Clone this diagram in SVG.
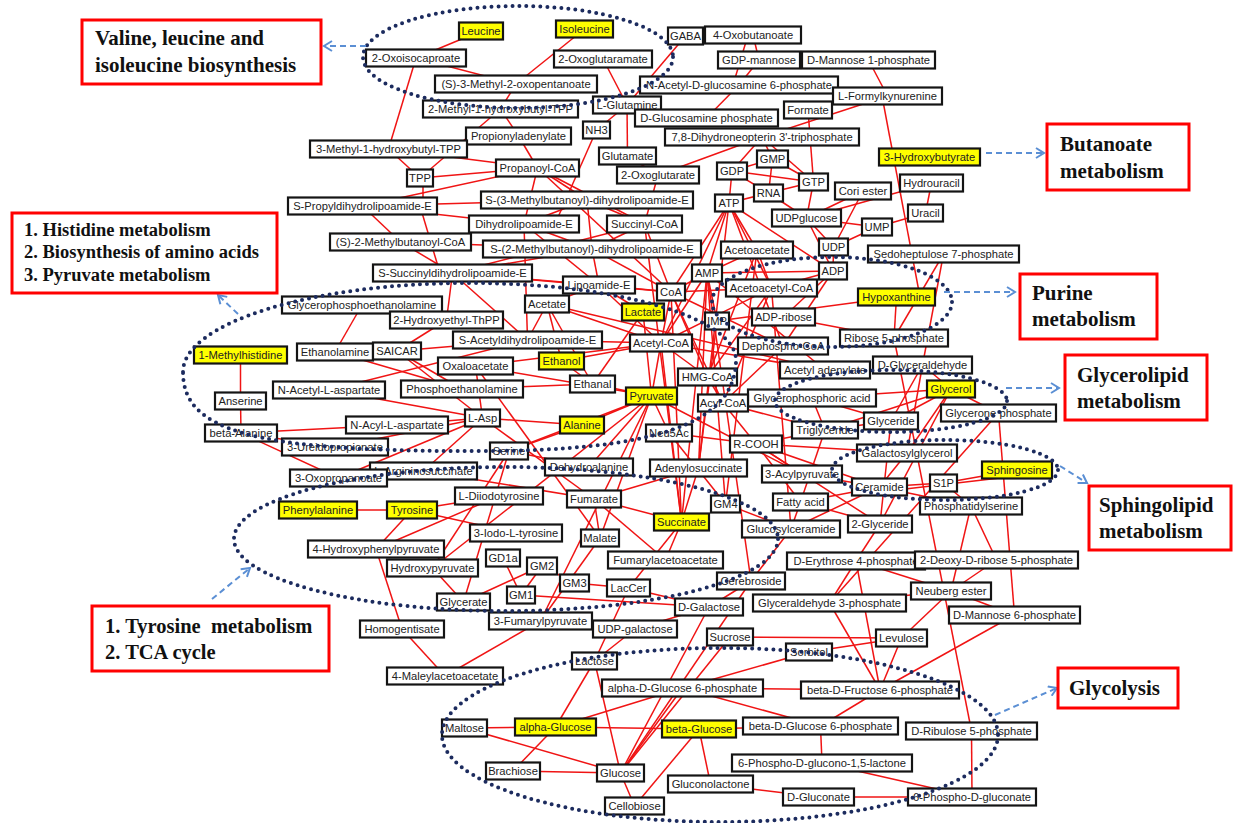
<svg xmlns="http://www.w3.org/2000/svg" width="1233" height="823" viewBox="0 0 1233 823">
<style>
.e line{stroke:#f01414;stroke-width:1.5}
.n rect{fill:#fff;stroke:#141414;stroke-width:2.2}
.n.y rect{fill:#ffff00}
.n text{font-family:"Liberation Sans",Arial,sans-serif;font-size:11.2px;text-anchor:middle;fill:#222}
.dot{fill:none;stroke:#1c2b5e;stroke-width:4;stroke-dasharray:0 7;stroke-linecap:round}
.lb rect{fill:#fff;stroke:#f00;stroke-width:3}
.lb text{font-family:"Liberation Serif","Times New Roman",serif;font-weight:bold;font-size:21px;fill:#111}
.ar{stroke:#5b8fd4;stroke-width:2;stroke-dasharray:6 4;fill:none}
</style>
<defs>
<marker id="ah" markerWidth="12" markerHeight="12" refX="10" refY="6" orient="auto" markerUnits="userSpaceOnUse"><path d="M2,1 L10,6 L2,11" fill="none" stroke="#5b8fd4" stroke-width="2"/></marker>
</defs>
<rect width="1233" height="823" fill="#fff"/>
<g id="connectors" class="e">
<line x1="481" y1="31" x2="416" y2="58"/><line x1="584.5" y1="29" x2="516" y2="84"/><line x1="416" y1="58" x2="388.5" y2="149"/><line x1="416" y1="58" x2="516" y2="84"/><line x1="516" y1="84" x2="500.5" y2="109"/><line x1="500.5" y1="109" x2="518.5" y2="136"/><line x1="603" y1="59" x2="627" y2="105"/><line x1="685.5" y1="36" x2="753" y2="35"/><line x1="685.5" y1="36" x2="627" y2="105"/><line x1="753" y1="35" x2="759" y2="60"/><line x1="759" y1="60" x2="739" y2="85"/><line x1="748" y1="35" x2="733" y2="85"/><line x1="739" y1="85" x2="706.5" y2="118"/><line x1="868.5" y1="60" x2="887.5" y2="96"/><line x1="882" y1="96" x2="920" y2="297"/><line x1="887.5" y1="96" x2="762" y2="137"/><line x1="808" y1="110" x2="813.5" y2="182"/><line x1="762" y1="137" x2="813.5" y2="182"/><line x1="762" y1="137" x2="732" y2="171"/><line x1="762" y1="137" x2="772.5" y2="159"/><line x1="762" y1="137" x2="658" y2="175"/><line x1="627" y1="105" x2="627.5" y2="156"/><line x1="627" y1="105" x2="596.5" y2="130"/><line x1="596.5" y1="130" x2="555" y2="224"/><line x1="627.5" y1="156" x2="658" y2="175"/><line x1="658" y1="175" x2="644.5" y2="224"/><line x1="388.5" y1="149" x2="420" y2="178"/><line x1="420" y1="178" x2="500.5" y2="109"/><line x1="388.5" y1="149" x2="537.5" y2="168"/><line x1="420" y1="178" x2="537.5" y2="168"/><line x1="423" y1="178" x2="423" y2="206"/><line x1="362.5" y1="206" x2="537.5" y2="168"/><line x1="362.5" y1="206" x2="524" y2="224"/><line x1="362.5" y1="206" x2="400.5" y2="242"/><line x1="420" y1="206" x2="440" y2="273"/><line x1="400.5" y1="242" x2="592" y2="249"/><line x1="400.5" y1="242" x2="452.5" y2="273"/><line x1="518.5" y1="136" x2="537.5" y2="168"/><line x1="537.5" y1="168" x2="587" y2="200"/><line x1="537.5" y1="168" x2="524" y2="224"/><line x1="587" y1="200" x2="524" y2="224"/><line x1="587" y1="200" x2="644.5" y2="224"/><line x1="587" y1="200" x2="592" y2="249"/><line x1="524" y1="224" x2="592" y2="249"/><line x1="644.5" y1="224" x2="592" y2="249"/><line x1="524" y1="224" x2="599" y2="285"/><line x1="592" y1="249" x2="599" y2="285"/><line x1="452.5" y1="273" x2="599" y2="285"/><line x1="452.5" y1="273" x2="527.5" y2="340"/><line x1="592" y1="249" x2="671" y2="292"/><line x1="644.5" y1="224" x2="671" y2="292"/><line x1="452.5" y1="273" x2="671" y2="292"/><line x1="644.5" y1="224" x2="681.5" y2="522"/><line x1="644.5" y1="224" x2="452.5" y2="273"/><line x1="537.5" y1="168" x2="671" y2="292"/><line x1="362.5" y1="206" x2="587" y2="200"/><line x1="537.5" y1="168" x2="644.5" y2="224"/><line x1="599" y1="285" x2="661" y2="343"/><line x1="524" y1="224" x2="527.5" y2="340"/><line x1="592" y1="249" x2="452.5" y2="273"/>
<line x1="732" y1="171" x2="772.5" y2="159"/><line x1="732" y1="171" x2="813.5" y2="182"/><line x1="732" y1="171" x2="768.5" y2="193"/><line x1="732" y1="171" x2="729" y2="203"/><line x1="772.5" y1="159" x2="813.5" y2="182"/><line x1="772.5" y1="159" x2="768.5" y2="193"/><line x1="768.5" y1="193" x2="813.5" y2="182"/><line x1="768.5" y1="193" x2="806.5" y2="218"/><line x1="768.5" y1="193" x2="729" y2="203"/><line x1="813.5" y1="182" x2="806.5" y2="218"/><line x1="729" y1="203" x2="707" y2="273"/><line x1="729" y1="203" x2="833" y2="271"/><line x1="729" y1="203" x2="771.5" y2="288"/><line x1="729" y1="203" x2="671" y2="292"/><line x1="729" y1="203" x2="783" y2="346"/><line x1="729" y1="203" x2="757" y2="250"/><line x1="729" y1="203" x2="661" y2="343"/><line x1="863" y1="191" x2="806.5" y2="218"/><line x1="863" y1="191" x2="833.5" y2="247"/><line x1="931.5" y1="183" x2="925.5" y2="213"/><line x1="931.5" y1="183" x2="806.5" y2="218"/><line x1="925.5" y1="213" x2="877" y2="227"/><line x1="877" y1="227" x2="833.5" y2="247"/><line x1="877" y1="227" x2="806.5" y2="218"/><line x1="806.5" y1="218" x2="833.5" y2="247"/><line x1="833.5" y1="247" x2="833" y2="271"/><line x1="806.5" y1="218" x2="833" y2="271"/><line x1="757" y1="250" x2="771.5" y2="288"/><line x1="707" y1="273" x2="833" y2="271"/><line x1="707" y1="273" x2="671" y2="292"/><line x1="671" y1="292" x2="771.5" y2="288"/><line x1="707" y1="273" x2="757" y2="250"/><line x1="707" y1="273" x2="717" y2="321"/><line x1="707" y1="273" x2="661" y2="343"/><line x1="833" y1="271" x2="783.5" y2="317"/><line x1="833" y1="271" x2="771.5" y2="288"/><line x1="833" y1="271" x2="783" y2="346"/><line x1="771.5" y1="288" x2="707.5" y2="377"/><line x1="771.5" y1="288" x2="661" y2="343"/><line x1="771.5" y1="288" x2="723" y2="403"/><line x1="771.5" y1="288" x2="791" y2="529"/><line x1="671" y1="292" x2="661" y2="343"/><line x1="671" y1="292" x2="783" y2="346"/><line x1="671" y1="292" x2="723" y2="403"/><line x1="671" y1="292" x2="707.5" y2="377"/><line x1="671" y1="292" x2="599" y2="285"/><line x1="783.5" y1="317" x2="894" y2="338"/><line x1="717" y1="321" x2="896.5" y2="297"/><line x1="717" y1="321" x2="698.5" y2="468"/><line x1="707" y1="273" x2="698.5" y2="468"/><line x1="707" y1="273" x2="725.5" y2="504"/><line x1="707" y1="273" x2="751" y2="581"/><line x1="783" y1="346" x2="723" y2="403"/><line x1="943.5" y1="254" x2="894" y2="338"/><line x1="943.5" y1="254" x2="922.5" y2="365"/><line x1="896.5" y1="297" x2="894" y2="338"/><line x1="661" y1="343" x2="825" y2="370"/><line x1="661" y1="343" x2="707.5" y2="377"/><line x1="661" y1="343" x2="651.5" y2="396"/><line x1="661" y1="343" x2="547" y2="304"/><line x1="661" y1="343" x2="527.5" y2="340"/><line x1="707.5" y1="377" x2="723" y2="403"/><line x1="707.5" y1="377" x2="757" y2="250"/><line x1="723" y1="403" x2="756" y2="444"/><line x1="723" y1="403" x2="812" y2="398"/><line x1="723" y1="403" x2="825" y2="430"/><line x1="643" y1="312" x2="651.5" y2="396"/><line x1="643" y1="312" x2="599" y2="285"/><line x1="547" y1="304" x2="599" y2="285"/><line x1="547" y1="304" x2="527.5" y2="340"/><line x1="547" y1="304" x2="592.5" y2="384"/><line x1="547" y1="304" x2="825" y2="370"/><line x1="561.5" y1="361" x2="592.5" y2="384"/><line x1="592.5" y1="384" x2="651.5" y2="396"/><line x1="651.5" y1="396" x2="582" y2="425"/><line x1="651.5" y1="396" x2="475.5" y2="366"/><line x1="651.5" y1="396" x2="509" y2="451"/><line x1="651.5" y1="396" x2="589" y2="467"/><line x1="651.5" y1="396" x2="600" y2="538"/><line x1="651.5" y1="396" x2="669" y2="433"/><line x1="651.5" y1="396" x2="802" y2="474"/><line x1="651.5" y1="396" x2="432.5" y2="568"/><line x1="651.5" y1="396" x2="540.5" y2="621"/><line x1="475.5" y1="366" x2="482.5" y2="418"/><line x1="475.5" y1="366" x2="600" y2="538"/><line x1="446.5" y1="320" x2="452.5" y2="273"/><line x1="446.5" y1="320" x2="397" y2="351"/><line x1="362" y1="305" x2="335" y2="352"/><line x1="335" y1="352" x2="462" y2="389"/><line x1="397" y1="351" x2="462" y2="389"/><line x1="397" y1="351" x2="482.5" y2="418"/><line x1="397" y1="351" x2="527.5" y2="340"/><line x1="240.5" y1="355" x2="240.5" y2="401"/><line x1="240.5" y1="401" x2="241" y2="433"/><line x1="241" y1="433" x2="397" y2="425"/><line x1="241" y1="433" x2="335" y2="447"/><line x1="241" y1="433" x2="338.5" y2="478"/><line x1="329" y1="390" x2="482.5" y2="418"/><line x1="329" y1="390" x2="527.5" y2="340"/><line x1="397" y1="425" x2="482.5" y2="418"/><line x1="335" y1="447" x2="482.5" y2="418"/><line x1="423.5" y1="471" x2="482.5" y2="418"/><line x1="338.5" y1="478" x2="482.5" y2="418"/><line x1="423.5" y1="471" x2="594" y2="499"/><line x1="509" y1="451" x2="589" y2="467"/><line x1="509" y1="451" x2="582" y2="425"/><line x1="509" y1="451" x2="432.5" y2="568"/><line x1="509" y1="451" x2="463.5" y2="602"/><line x1="594" y1="499" x2="698.5" y2="468"/><line x1="594" y1="499" x2="681.5" y2="522"/><line x1="594" y1="499" x2="600" y2="538"/><line x1="594" y1="499" x2="665.5" y2="560"/><line x1="318" y1="510" x2="412" y2="510"/><line x1="412" y1="510" x2="499" y2="496"/><line x1="412" y1="510" x2="516" y2="533"/><line x1="412" y1="510" x2="376" y2="549"/><line x1="376" y1="549" x2="499" y2="496"/><line x1="376" y1="549" x2="402" y2="629"/><line x1="402" y1="629" x2="445" y2="676"/><line x1="445" y1="676" x2="540.5" y2="621"/><line x1="432.5" y1="568" x2="463.5" y2="602"/><line x1="463.5" y1="602" x2="542" y2="566"/><line x1="503" y1="558" x2="521" y2="595"/><line x1="521" y1="595" x2="542" y2="566"/><line x1="542" y1="566" x2="574.5" y2="583"/><line x1="574.5" y1="583" x2="628.5" y2="588"/><line x1="628.5" y1="588" x2="709" y2="607"/><line x1="521" y1="595" x2="709" y2="607"/><line x1="725.5" y1="504" x2="791" y2="529"/><line x1="725.5" y1="504" x2="669" y2="433"/><line x1="707" y1="273" x2="681.5" y2="522"/><line x1="671" y1="292" x2="681.5" y2="522"/><line x1="661" y1="343" x2="681.5" y2="522"/><line x1="757" y1="250" x2="725.5" y2="504"/><line x1="729" y1="203" x2="698.5" y2="468"/><line x1="698.5" y1="468" x2="681.5" y2="522"/><line x1="669" y1="433" x2="756" y2="444"/><line x1="825" y1="370" x2="707" y2="273"/><line x1="561.5" y1="361" x2="661" y2="343"/><line x1="561.5" y1="361" x2="547" y2="304"/><line x1="643" y1="312" x2="592.5" y2="384"/><line x1="475.5" y1="366" x2="661" y2="343"/><line x1="462" y1="389" x2="592.5" y2="384"/><line x1="482.5" y1="418" x2="582" y2="425"/><line x1="482.5" y1="418" x2="594" y2="499"/><line x1="600" y1="538" x2="540.5" y2="621"/><line x1="681.5" y1="522" x2="665.5" y2="560"/>
<line x1="951" y1="389" x2="812" y2="398"/><line x1="951" y1="389" x2="922.5" y2="365"/><line x1="951" y1="389" x2="891" y2="421"/><line x1="951" y1="389" x2="998.5" y2="413"/><line x1="951" y1="389" x2="825" y2="430"/><line x1="951" y1="389" x2="907" y2="453"/><line x1="951" y1="389" x2="880" y2="524"/><line x1="922.5" y1="365" x2="907" y2="453"/><line x1="922.5" y1="365" x2="891" y2="421"/><line x1="812" y1="398" x2="891" y2="421"/><line x1="812" y1="398" x2="825" y2="430"/><line x1="891" y1="421" x2="825" y2="430"/><line x1="825" y1="430" x2="756" y2="444"/><line x1="756" y1="444" x2="802" y2="474"/><line x1="756" y1="444" x2="800.5" y2="502"/><line x1="756" y1="444" x2="907" y2="453"/><line x1="756" y1="444" x2="879.5" y2="487"/><line x1="756" y1="444" x2="880" y2="524"/><line x1="907" y1="453" x2="879.5" y2="487"/><line x1="879.5" y1="487" x2="943.5" y2="483"/><line x1="943.5" y1="483" x2="1017" y2="470"/><line x1="879.5" y1="492" x2="1017" y2="476"/><line x1="879.5" y1="487" x2="800.5" y2="502"/><line x1="879.5" y1="487" x2="971" y2="506"/><line x1="879.5" y1="487" x2="791" y2="529"/><line x1="879.5" y1="487" x2="802" y2="474"/><line x1="943.5" y1="483" x2="971" y2="506"/><line x1="791" y1="529" x2="751" y2="581"/><line x1="751" y1="581" x2="709" y2="607"/><line x1="998.5" y1="413" x2="1014.5" y2="615"/><line x1="998.5" y1="413" x2="829.5" y2="603"/><line x1="800.5" y1="502" x2="825" y2="430"/><line x1="800.5" y1="502" x2="791" y2="529"/><line x1="880" y1="524" x2="800.5" y2="502"/><line x1="880" y1="524" x2="856" y2="561"/><line x1="971" y1="506" x2="951" y2="591"/><line x1="971" y1="506" x2="996.5" y2="560"/><line x1="856" y1="561" x2="829.5" y2="603"/><line x1="856" y1="561" x2="951" y2="591"/><line x1="856" y1="561" x2="880" y2="690"/><line x1="996.5" y1="560" x2="951" y2="591"/><line x1="894" y1="338" x2="971.5" y2="731"/><line x1="829.5" y1="603" x2="951" y2="591"/><line x1="829.5" y1="603" x2="880" y2="690"/><line x1="951" y1="591" x2="901.5" y2="638"/><line x1="951" y1="591" x2="1014.5" y2="615"/><line x1="1014.5" y1="615" x2="880" y2="690"/><line x1="901.5" y1="638" x2="880" y2="690"/><line x1="809" y1="652" x2="901.5" y2="638"/><line x1="730" y1="637" x2="901.5" y2="638"/><line x1="682.5" y1="688" x2="880" y2="690"/><line x1="880" y1="690" x2="820.5" y2="726"/><line x1="820.5" y1="726" x2="822" y2="763"/><line x1="822" y1="763" x2="972" y2="797"/><line x1="818.5" y1="797" x2="972" y2="797"/><line x1="971.5" y1="731" x2="972" y2="797"/><line x1="710.5" y1="784" x2="818.5" y2="797"/><line x1="699" y1="729" x2="710.5" y2="784"/><line x1="699" y1="729" x2="820.5" y2="726"/><line x1="555.5" y1="727" x2="699" y2="729"/><line x1="464.5" y1="728" x2="555.5" y2="727"/><line x1="464.5" y1="728" x2="620.5" y2="773"/><line x1="513" y1="771" x2="555.5" y2="727"/><line x1="513" y1="771" x2="620.5" y2="773"/><line x1="620.5" y1="773" x2="634.5" y2="806"/><line x1="699" y1="729" x2="634.5" y2="806"/><line x1="594.5" y1="661" x2="620.5" y2="773"/><line x1="594.5" y1="661" x2="555.5" y2="727"/><line x1="682.5" y1="688" x2="555.5" y2="727"/><line x1="682.5" y1="688" x2="820.5" y2="726"/><line x1="809" y1="652" x2="682.5" y2="688"/><line x1="730" y1="637" x2="620.5" y2="773"/><line x1="620.5" y1="773" x2="709" y2="607"/><line x1="594.5" y1="661" x2="635" y2="629"/><line x1="635" y1="629" x2="709" y2="607"/><line x1="594.5" y1="661" x2="628.5" y2="588"/><line x1="620.5" y1="773" x2="682.5" y2="688"/><line x1="620.5" y1="773" x2="751" y2="581"/><line x1="628.5" y1="588" x2="681.5" y2="522"/><line x1="880" y1="524" x2="891" y2="421"/>
</g>
<g id="nodes">
<g id="n-leucine" class="n y"><rect x="459" y="22.5" width="44" height="17"/><text x="481" y="35">Leucine</text></g>
<g id="n-isoleucine" class="n y"><rect x="556" y="20.5" width="57" height="17"/><text x="584.5" y="33">Isoleucine</text></g>
<g id="n-oxoisocaproate" class="n"><rect x="366" y="49.5" width="100" height="17"/><text x="416" y="62">2-Oxoisocaproate</text></g>
<g id="n-oxoglutaramate" class="n"><rect x="554" y="50.5" width="98" height="17"/><text x="603" y="63">2-Oxoglutaramate</text></g>
<g id="n-gaba" class="n"><rect x="668" y="27.5" width="35" height="17"/><text x="685.5" y="40">GABA</text></g>
<g id="n-oxobutanoate" class="n"><rect x="705" y="26.5" width="96" height="17"/><text x="753" y="39">4-Oxobutanoate</text></g>
<g id="n-gdpmannose" class="n"><rect x="718" y="51.5" width="82" height="17"/><text x="759" y="64">GDP-mannose</text></g>
<g id="n-mannose1p" class="n"><rect x="802" y="51.5" width="133" height="17"/><text x="868.5" y="64">D-Mannose 1-phosphate</text></g>
<g id="n-methyloxopentanoate" class="n"><rect x="435" y="75.5" width="162" height="17"/><text x="516" y="88">(S)-3-Methyl-2-oxopentanoate</text></g>
<g id="n-nacglcn6p" class="n"><rect x="640" y="76.5" width="198" height="17"/><text x="739" y="89">N-Acetyl-D-glucosamine 6-phosphate</text></g>
<g id="n-formylkyn" class="n"><rect x="833" y="87.5" width="109" height="17"/><text x="887.5" y="100">L-Formylkynurenine</text></g>
<g id="n-glutamine" class="n"><rect x="593" y="96.5" width="68" height="17"/><text x="627" y="109">L-Glutamine</text></g>
<g id="n-m1hbtpp" class="n"><rect x="423" y="100.5" width="155" height="17"/><text x="500.5" y="113">2-Methyl-1-hydroxybutyl-TPP</text></g>
<g id="n-glcnp" class="n"><rect x="635" y="109.5" width="143" height="17"/><text x="706.5" y="122">D-Glucosamine phosphate</text></g>
<g id="n-formate" class="n"><rect x="784" y="101.5" width="48" height="17"/><text x="808" y="114">Formate</text></g>
<g id="n-propionyladenylate" class="n"><rect x="466" y="127.5" width="105" height="17"/><text x="518.5" y="140">Propionyladenylate</text></g>
<g id="n-nh3" class="n"><rect x="583" y="121.5" width="27" height="17"/><text x="596.5" y="134">NH3</text></g>
<g id="n-dhnp" class="n"><rect x="665" y="128.5" width="194" height="17"/><text x="762" y="141">7,8-Dihydroneopterin 3'-triphosphate</text></g>
<g id="n-m3hbtpp" class="n"><rect x="310" y="140.5" width="157" height="17"/><text x="388.5" y="153">3-Methyl-1-hydroxybutyl-TPP</text></g>
<g id="n-glutamate" class="n"><rect x="599" y="147.5" width="57" height="17"/><text x="627.5" y="160">Glutamate</text></g>
<g id="n-gdp" class="n"><rect x="717" y="162.5" width="30" height="17"/><text x="732" y="175">GDP</text></g>
<g id="n-gmp" class="n"><rect x="757" y="150.5" width="31" height="17"/><text x="772.5" y="163">GMP</text></g>
<g id="n-hydroxybutyrate" class="n y"><rect x="879" y="148.5" width="101" height="17"/><text x="929.5" y="161">3-Hydroxybutyrate</text></g>
<g id="n-propanoylcoa" class="n"><rect x="496" y="159.5" width="83" height="17"/><text x="537.5" y="172">Propanoyl-CoA</text></g>
<g id="n-oxoglutarate" class="n"><rect x="617" y="166.5" width="82" height="17"/><text x="658" y="179">2-Oxoglutarate</text></g>
<g id="n-gtp" class="n"><rect x="799" y="173.5" width="29" height="17"/><text x="813.5" y="186">GTP</text></g>
<g id="n-rna" class="n"><rect x="754" y="184.5" width="29" height="17"/><text x="768.5" y="197">RNA</text></g>
<g id="n-tpp" class="n"><rect x="407" y="169.5" width="26" height="17"/><text x="420" y="182">TPP</text></g>
<g id="n-coriester" class="n"><rect x="835" y="182.5" width="56" height="17"/><text x="863" y="195">Cori ester</text></g>
<g id="n-hydrouracil" class="n"><rect x="900" y="174.5" width="63" height="17"/><text x="931.5" y="187">Hydrouracil</text></g>
<g id="n-atp" class="n"><rect x="715" y="194.5" width="28" height="17"/><text x="729" y="207">ATP</text></g>
<g id="n-s3mbdhl" class="n"><rect x="481" y="191.5" width="212" height="17"/><text x="587" y="204">S-(3-Methylbutanoyl)-dihydrolipoamide-E</text></g>
<g id="n-spropyl" class="n"><rect x="288" y="197.5" width="149" height="17"/><text x="362.5" y="210">S-Propyldihydrolipoamide-E</text></g>
<g id="n-udpglucose" class="n"><rect x="772" y="209.5" width="69" height="17"/><text x="806.5" y="222">UDPglucose</text></g>
<g id="n-uracil" class="n"><rect x="908" y="204.5" width="35" height="17"/><text x="925.5" y="217">Uracil</text></g>
<g id="n-ump" class="n"><rect x="862" y="218.5" width="30" height="17"/><text x="877" y="231">UMP</text></g>
<g id="n-dihydrolipoamide" class="n"><rect x="469" y="215.5" width="110" height="17"/><text x="524" y="228">Dihydrolipoamide-E</text></g>
<g id="n-succinylcoa" class="n"><rect x="607" y="215.5" width="75" height="17"/><text x="644.5" y="228">Succinyl-CoA</text></g>
<g id="n-s2mbcoa" class="n"><rect x="330" y="233.5" width="141" height="17"/><text x="400.5" y="246">(S)-2-Methylbutanoyl-CoA</text></g>
<g id="n-s2mbdhl" class="n"><rect x="483" y="240.5" width="218" height="17"/><text x="592" y="253">S-(2-Methylbutanoyl)-dihydrolipoamide-E</text></g>
<g id="n-acetoacetate" class="n"><rect x="721" y="241.5" width="72" height="17"/><text x="757" y="254">Acetoacetate</text></g>
<g id="n-udp" class="n"><rect x="819" y="238.5" width="29" height="17"/><text x="833.5" y="251">UDP</text></g>
<g id="n-sedoheptulose" class="n"><rect x="868" y="245.5" width="151" height="17"/><text x="943.5" y="258">Sedoheptulose 7-phosphate</text></g>
<g id="n-ssuccinyl" class="n"><rect x="373" y="264.5" width="159" height="17"/><text x="452.5" y="277">S-Succinyldihydrolipoamide-E</text></g>
<g id="n-adp" class="n"><rect x="819" y="262.5" width="28" height="17"/><text x="833" y="275">ADP</text></g>
<g id="n-amp" class="n"><rect x="692" y="264.5" width="30" height="17"/><text x="707" y="277">AMP</text></g>
<g id="n-lipoamide" class="n"><rect x="563" y="276.5" width="72" height="17"/><text x="599" y="289">Lipoamide-E</text></g>
<g id="n-coa" class="n"><rect x="657" y="283.5" width="28" height="17"/><text x="671" y="296">CoA</text></g>
<g id="n-acetoacetylcoa" class="n"><rect x="726" y="279.5" width="91" height="17"/><text x="771.5" y="292">Acetoacetyl-CoA</text></g>
<g id="n-hypoxanthine" class="n y"><rect x="858" y="288.5" width="77" height="17"/><text x="896.5" y="301">Hypoxanthine</text></g>
<g id="n-gpe" class="n"><rect x="282" y="296.5" width="160" height="17"/><text x="362" y="309">Glycerophosphoethanolamine</text></g>
<g id="n-acetate" class="n"><rect x="525" y="295.5" width="44" height="17"/><text x="547" y="308">Acetate</text></g>
<g id="n-lactate" class="n y"><rect x="622" y="303.5" width="42" height="17"/><text x="643" y="316">Lactate</text></g>
<g id="n-hethpp" class="n"><rect x="390" y="311.5" width="113" height="17"/><text x="446.5" y="324">2-Hydroxyethyl-ThPP</text></g>
<g id="n-imp" class="n"><rect x="705" y="312.5" width="24" height="17"/><text x="717" y="325">IMP</text></g>
<g id="n-adpribose" class="n"><rect x="752" y="308.5" width="63" height="17"/><text x="783.5" y="321">ADP-ribose</text></g>
<g id="n-ribose5p" class="n"><rect x="840" y="329.5" width="108" height="17"/><text x="894" y="342">Ribose 5-phosphate</text></g>
<g id="n-sacetyl" class="n"><rect x="453" y="331.5" width="149" height="17"/><text x="527.5" y="344">S-Acetyldihydrolipoamide-E</text></g>
<g id="n-acetylcoa" class="n"><rect x="630" y="334.5" width="62" height="17"/><text x="661" y="347">Acetyl-CoA</text></g>
<g id="n-dephosphocoa" class="n"><rect x="738" y="337.5" width="90" height="17"/><text x="783" y="350">Dephospho-CoA</text></g>
<g id="n-methylhistidine" class="n y"><rect x="194" y="346.5" width="93" height="17"/><text x="240.5" y="359">1-Methylhistidine</text></g>
<g id="n-ethanolamine" class="n"><rect x="297" y="343.5" width="76" height="17"/><text x="335" y="356">Ethanolamine</text></g>
<g id="n-saicar" class="n"><rect x="373" y="342.5" width="48" height="17"/><text x="397" y="355">SAICAR</text></g>
<g id="n-ethanol" class="n y"><rect x="539" y="352.5" width="45" height="17"/><text x="561.5" y="365">Ethanol</text></g>
<g id="n-oxaloacetate" class="n"><rect x="438" y="357.5" width="75" height="17"/><text x="475.5" y="370">Oxaloacetate</text></g>
<g id="n-dglyceraldehyde" class="n"><rect x="873" y="356.5" width="99" height="17"/><text x="922.5" y="369">D-Glyceraldehyde</text></g>
<g id="n-acetyladenylate" class="n"><rect x="780" y="361.5" width="90" height="17"/><text x="825" y="374">Acetyl adenylate</text></g>
<g id="n-hmgcoa" class="n"><rect x="678" y="368.5" width="59" height="17"/><text x="707.5" y="381">HMG-CoA</text></g>
<g id="n-ethanal" class="n"><rect x="570" y="375.5" width="45" height="17"/><text x="592.5" y="388">Ethanal</text></g>
<g id="n-pyruvate" class="n y"><rect x="626" y="387.5" width="51" height="17"/><text x="651.5" y="400">Pyruvate</text></g>
<g id="n-glycerol" class="n y"><rect x="927" y="380.5" width="48" height="17"/><text x="951" y="393">Glycerol</text></g>
<g id="n-nacetylasp" class="n"><rect x="273" y="381.5" width="112" height="17"/><text x="329" y="394">N-Acetyl-L-aspartate</text></g>
<g id="n-phosphoethanolamine" class="n"><rect x="401" y="380.5" width="122" height="17"/><text x="462" y="393">Phosphoethanolamine</text></g>
<g id="n-anserine" class="n"><rect x="215" y="392.5" width="51" height="17"/><text x="240.5" y="405">Anserine</text></g>
<g id="n-gpa" class="n"><rect x="748" y="389.5" width="128" height="17"/><text x="812" y="402">Glycerophosphoric acid</text></g>
<g id="n-acylcoa" class="n"><rect x="698" y="394.5" width="50" height="17"/><text x="723" y="407">Acyl-CoA</text></g>
<g id="n-glyceronep" class="n"><rect x="941" y="404.5" width="115" height="17"/><text x="998.5" y="417">Glycerone phosphate</text></g>
<g id="n-glyceride" class="n"><rect x="864" y="412.5" width="54" height="17"/><text x="891" y="425">Glyceride</text></g>
<g id="n-triglyceride" class="n"><rect x="792" y="421.5" width="66" height="17"/><text x="825" y="434">Triglyceride</text></g>
<g id="n-lasp" class="n"><rect x="465" y="409.5" width="35" height="17"/><text x="482.5" y="422">L-Asp</text></g>
<g id="n-nacylasp" class="n"><rect x="346" y="416.5" width="102" height="17"/><text x="397" y="429">N-Acyl-L-aspartate</text></g>
<g id="n-betaalanine" class="n"><rect x="205" y="424.5" width="72" height="17"/><text x="241" y="437">beta-Alanine</text></g>
<g id="n-alanine" class="n y"><rect x="560" y="416.5" width="44" height="17"/><text x="582" y="429">Alanine</text></g>
<g id="n-neu5ac" class="n"><rect x="646" y="424.5" width="46" height="17"/><text x="669" y="437">Neu5Ac</text></g>
<g id="n-rcooh" class="n"><rect x="730" y="435.5" width="52" height="17"/><text x="756" y="448">R-COOH</text></g>
<g id="n-ureidopropionate" class="n"><rect x="282" y="438.5" width="106" height="17"/><text x="335" y="451">3-Ureidopropionate</text></g>
<g id="n-serine" class="n"><rect x="490" y="442.5" width="38" height="17"/><text x="509" y="455">Serine</text></g>
<g id="n-galactosylglycerol" class="n"><rect x="857" y="444.5" width="100" height="17"/><text x="907" y="457">Galactosylglycerol</text></g>
<g id="n-argininosuccinate" class="n"><rect x="370" y="462.5" width="107" height="17"/><text x="423.5" y="475">L-Argininosuccinate</text></g>
<g id="n-oxopropanoate" class="n"><rect x="290" y="469.5" width="97" height="17"/><text x="338.5" y="482">3-Oxopropanoate</text></g>
<g id="n-dehydroalanine" class="n"><rect x="545" y="458.5" width="88" height="17"/><text x="589" y="471">Dehydroalanine</text></g>
<g id="n-adenylosuccinate" class="n"><rect x="650" y="459.5" width="97" height="17"/><text x="698.5" y="472">Adenylosuccinate</text></g>
<g id="n-acylpyruvate" class="n"><rect x="762" y="465.5" width="80" height="17"/><text x="802" y="478">3-Acylpyruvate</text></g>
<g id="n-sphingosine" class="n y"><rect x="982" y="461.5" width="70" height="17"/><text x="1017" y="474">Sphingosine</text></g>
<g id="n-ceramide" class="n"><rect x="852" y="478.5" width="55" height="17"/><text x="879.5" y="491">Ceramide</text></g>
<g id="n-s1p" class="n"><rect x="930" y="474.5" width="27" height="17"/><text x="943.5" y="487">S1P</text></g>
<g id="n-diiodotyrosine" class="n"><rect x="455" y="487.5" width="88" height="17"/><text x="499" y="500">L-Diiodotyrosine</text></g>
<g id="n-phosphatidylserine" class="n"><rect x="920" y="497.5" width="102" height="17"/><text x="971" y="510">Phosphatidylserine</text></g>
<g id="n-fattyacid" class="n"><rect x="773" y="493.5" width="55" height="17"/><text x="800.5" y="506">Fatty acid</text></g>
<g id="n-phenylalanine" class="n y"><rect x="279" y="501.5" width="78" height="17"/><text x="318" y="514">Phenylalanine</text></g>
<g id="n-tyrosine" class="n y"><rect x="387" y="501.5" width="50" height="17"/><text x="412" y="514">Tyrosine</text></g>
<g id="n-fumarate" class="n"><rect x="567" y="490.5" width="54" height="17"/><text x="594" y="503">Fumarate</text></g>
<g id="n-gm4" class="n"><rect x="711" y="495.5" width="29" height="17"/><text x="725.5" y="508">GM4</text></g>
<g id="n-succinate" class="n y"><rect x="654" y="513.5" width="55" height="17"/><text x="681.5" y="526">Succinate</text></g>
<g id="n-glyceride2" class="n"><rect x="848" y="515.5" width="64" height="17"/><text x="880" y="528">2-Glyceride</text></g>
<g id="n-glucosylceramide" class="n"><rect x="742" y="520.5" width="98" height="17"/><text x="791" y="533">Glucosylceramide</text></g>
<g id="n-iodotyrosine" class="n"><rect x="470" y="524.5" width="92" height="17"/><text x="516" y="537">3-Iodo-L-tyrosine</text></g>
<g id="n-malate" class="n"><rect x="581" y="529.5" width="38" height="17"/><text x="600" y="542">Malate</text></g>
<g id="n-hpp" class="n"><rect x="308" y="540.5" width="136" height="17"/><text x="376" y="553">4-Hydroxyphenylpyruvate</text></g>
<g id="n-gd1a" class="n"><rect x="486" y="549.5" width="34" height="17"/><text x="503" y="562">GD1a</text></g>
<g id="n-gm2" class="n"><rect x="527" y="557.5" width="30" height="17"/><text x="542" y="570">GM2</text></g>
<g id="n-fumarylacetoacetate" class="n"><rect x="608" y="551.5" width="115" height="17"/><text x="665.5" y="564">Fumarylacetoacetate</text></g>
<g id="n-erythrose4p" class="n"><rect x="787" y="552.5" width="138" height="17"/><text x="856" y="565">D-Erythrose 4-phosphate</text></g>
<g id="n-deoxyribose5p" class="n"><rect x="915" y="551.5" width="163" height="17"/><text x="996.5" y="564">2-Deoxy-D-ribose 5-phosphate</text></g>
<g id="n-hydroxypyruvate" class="n"><rect x="387" y="559.5" width="91" height="17"/><text x="432.5" y="572">Hydroxypyruvate</text></g>
<g id="n-gm3" class="n"><rect x="560" y="574.5" width="29" height="17"/><text x="574.5" y="587">GM3</text></g>
<g id="n-laccer" class="n"><rect x="607" y="579.5" width="43" height="17"/><text x="628.5" y="592">LacCer</text></g>
<g id="n-gm1" class="n"><rect x="507" y="586.5" width="28" height="17"/><text x="521" y="599">GM1</text></g>
<g id="n-cerebroside" class="n"><rect x="717" y="572.5" width="68" height="17"/><text x="751" y="585">Cerebroside</text></g>
<g id="n-neuberg" class="n"><rect x="911" y="582.5" width="80" height="17"/><text x="951" y="595">Neuberg ester</text></g>
<g id="n-glycerate" class="n"><rect x="437" y="593.5" width="53" height="17"/><text x="463.5" y="606">Glycerate</text></g>
<g id="n-dgalactose" class="n"><rect x="675" y="598.5" width="68" height="17"/><text x="709" y="611">D-Galactose</text></g>
<g id="n-g3p" class="n"><rect x="753" y="594.5" width="153" height="17"/><text x="829.5" y="607">Glyceraldehyde 3-phosphate</text></g>
<g id="n-mannose6p" class="n"><rect x="949" y="606.5" width="131" height="17"/><text x="1014.5" y="619">D-Mannose 6-phosphate</text></g>
<g id="n-fumarylpyruvate" class="n"><rect x="489" y="612.5" width="103" height="17"/><text x="540.5" y="625">3-Fumarylpyruvate</text></g>
<g id="n-homogentisate" class="n"><rect x="360" y="620.5" width="84" height="17"/><text x="402" y="633">Homogentisate</text></g>
<g id="n-udpgalactose" class="n"><rect x="593" y="620.5" width="84" height="17"/><text x="635" y="633">UDP-galactose</text></g>
<g id="n-sucrose" class="n"><rect x="707" y="628.5" width="46" height="17"/><text x="730" y="641">Sucrose</text></g>
<g id="n-levulose" class="n"><rect x="876" y="629.5" width="51" height="17"/><text x="901.5" y="642">Levulose</text></g>
<g id="n-sorbitol" class="n"><rect x="786" y="643.5" width="46" height="17"/><text x="809" y="656">Sorbitol</text></g>
<g id="n-lactose" class="n"><rect x="572" y="652.5" width="45" height="17"/><text x="594.5" y="665">Lactose</text></g>
<g id="n-maleylacetoacetate" class="n"><rect x="387" y="667.5" width="116" height="17"/><text x="445" y="680">4-Maleylacetoacetate</text></g>
<g id="n-ag6p" class="n"><rect x="602" y="679.5" width="161" height="17"/><text x="682.5" y="692">alpha-D-Glucose 6-phosphate</text></g>
<g id="n-bf6p" class="n"><rect x="801" y="681.5" width="158" height="17"/><text x="880" y="694">beta-D-Fructose 6-phosphate</text></g>
<g id="n-maltose" class="n"><rect x="442" y="719.5" width="45" height="17"/><text x="464.5" y="732">Maltose</text></g>
<g id="n-aglucose" class="n y"><rect x="515" y="718.5" width="81" height="17"/><text x="555.5" y="731">alpha-Glucose</text></g>
<g id="n-bglucose" class="n y"><rect x="662" y="720.5" width="74" height="17"/><text x="699" y="733">beta-Glucose</text></g>
<g id="n-bg6p" class="n"><rect x="743" y="717.5" width="155" height="17"/><text x="820.5" y="730">beta-D-Glucose 6-phosphate</text></g>
<g id="n-ribulose5p" class="n"><rect x="906" y="722.5" width="131" height="17"/><text x="971.5" y="735">D-Ribulose 5-phosphate</text></g>
<g id="n-pglucolactone" class="n"><rect x="732" y="754.5" width="180" height="17"/><text x="822" y="767">6-Phospho-D-glucono-1,5-lactone</text></g>
<g id="n-brachiose" class="n"><rect x="486" y="762.5" width="54" height="17"/><text x="513" y="775">Brachiose</text></g>
<g id="n-glucose" class="n"><rect x="597" y="764.5" width="47" height="17"/><text x="620.5" y="777">Glucose</text></g>
<g id="n-gluconolactone" class="n"><rect x="668" y="775.5" width="85" height="17"/><text x="710.5" y="788">Gluconolactone</text></g>
<g id="n-gluconate" class="n"><rect x="783" y="788.5" width="71" height="17"/><text x="818.5" y="801">D-Gluconate</text></g>
<g id="n-pgluconate" class="n"><rect x="908" y="788.5" width="128" height="17"/><text x="972" y="801">6-Phospho-D-gluconate</text></g>
<g id="n-cellobiose" class="n"><rect x="605" y="797.5" width="59" height="17"/><text x="634.5" y="810">Cellobiose</text></g>
</g>
<g id="pathway-outlines">
<ellipse class="dot" cx="518" cy="57" rx="155" ry="51"/>
<path class="dot" d="M183,372 C183,323 312,283 470,283 C617,283 736,318 736,360 C736,425 650,451 480,451 C250,452 183,430 183,372 Z"/>
<ellipse class="dot" cx="506" cy="539" rx="272" ry="72"/>
<ellipse class="dot" cx="832" cy="302" rx="120" ry="45"/>
<ellipse class="dot" cx="891" cy="401" rx="116" ry="31"/>
<ellipse class="dot" cx="945" cy="470" rx="113" ry="30"/>
<ellipse class="dot" cx="720" cy="735" rx="278" ry="87"/>
</g>
<g id="pathway-arrows">
<path class="ar" d="M366,46 L324,46" marker-end="url(#ah)"/>
<path class="ar" d="M238,314 L218,295" marker-end="url(#ah)"/>
<path class="ar" d="M986,153 L1044,153" marker-end="url(#ah)"/>
<path class="ar" d="M944,292 L1015,292" marker-end="url(#ah)"/>
<path class="ar" d="M1006,388 L1059,388" marker-end="url(#ah)"/>
<path class="ar" d="M1060,466 L1087,483" marker-end="url(#ah)"/>
<path class="ar" d="M212,599 L250,568" marker-end="url(#ah)"/>
<path class="ar" d="M995,715 L1057,688" marker-end="url(#ah)"/>
</g>
<g id="label-valine" class="lb"><rect x="82" y="20" width="239" height="64"/><text x="95" y="45">Valine, leucine and</text><text x="95" y="72">isoleucine biosynthesis</text></g>
<g id="label-histidine" class="lb"><rect x="12" y="213" width="265" height="80"/><text x="24" y="236" style="font-size:18.5px">1. Histidine metabolism</text><text x="24" y="258" style="font-size:18.5px">2. Biosynthesis of amino acids</text><text x="24" y="281" style="font-size:18.5px">3. Pyruvate metabolism</text></g>
<g id="label-butanoate" class="lb"><rect x="1047" y="124" width="142" height="66"/><text x="1060" y="151">Butanoate</text><text x="1060" y="178">metabolism</text></g>
<g id="label-purine" class="lb"><rect x="1020" y="274" width="137" height="65"/><text x="1032" y="300">Purine</text><text x="1032" y="326">metabolism</text></g>
<g id="label-glycerolipid" class="lb"><rect x="1065" y="355" width="142" height="65"/><text x="1077" y="382">Glycerolipid</text><text x="1077" y="408">metabolism</text></g>
<g id="label-sphingolipid" class="lb"><rect x="1089" y="486" width="142" height="64"/><text x="1099" y="512">Sphingolipid</text><text x="1099" y="538">metabolism</text></g>
<g id="label-tyrosine" class="lb"><rect x="92" y="606" width="237" height="65"/><text x="105" y="633" xml:space="preserve" style="font-size:20.5px">1. Tyrosine  metabolism</text><text x="105" y="659" style="font-size:20.5px">2. TCA cycle</text></g>
<g id="label-glycolysis" class="lb"><rect x="1058" y="668" width="120" height="40"/><text x="1069" y="695">Glycolysis</text></g>
</svg>
